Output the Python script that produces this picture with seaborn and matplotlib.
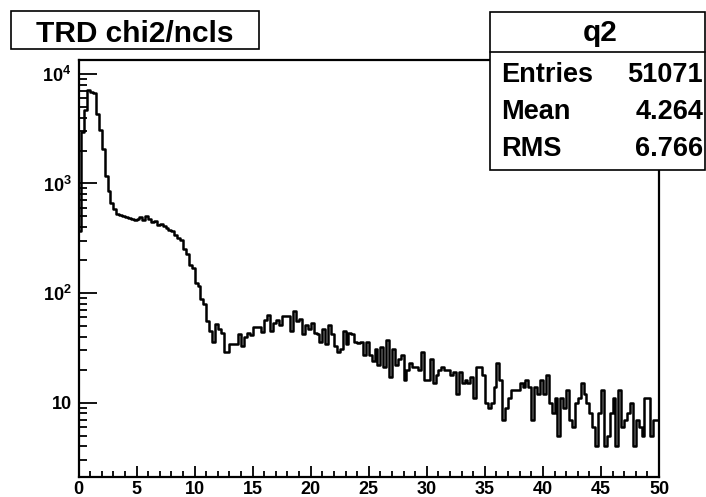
import numpy as np
import pandas as pd
import matplotlib
matplotlib.use("Agg")
import matplotlib.pyplot as plt
from matplotlib.patches import Rectangle
from matplotlib.lines import Line2D
from matplotlib.ticker import LogLocator, FixedLocator, MultipleLocator, NullFormatter
import seaborn as sns

# ---- histogram definition -------------------------------------------------
hist_name = "q2"
hist_title = "TRD chi2/ncls"
x_min, x_max, n_bins = 0.0, 50.0, 200

# bin contents, 0.25 wide bins from 0 to 50
counts = [
    367, 2950, 4700, 7100, 6880, 6650, 4350, 3050, 2070, 1180,
    860, 670, 580, 525, 515, 500, 490, 485, 470, 460,
    470, 495, 465, 500, 470, 445, 455, 420, 430, 405,
    395, 380, 365, 340, 320, 308, 250, 227, 181, 171,
    123, 115, 89, 79, 55, 45, 36, 52, 47, 43,
    29, 29, 34, 34, 34, 42, 33, 40, 43, 41,
    49, 49, 49, 44, 57, 63, 45, 53, 57, 51,
    62, 62, 62, 45, 68, 55, 58, 42, 51, 47,
    53, 43, 42, 36, 47, 34, 51, 42, 33, 29,
    31, 45, 34, 43, 42, 36, 35, 36, 27, 36,
    27, 24, 31, 22, 32, 21, 37, 17, 31, 22,
    25, 27, 16, 20, 23, 21, 21, 20, 29, 16,
    16, 25, 15, 18, 20, 21, 20, 20, 18, 19,
    12, 19, 15, 16, 15, 17, 11, 21, 21, 18,
    10, 9, 10, 14, 23, 16, 7, 9, 11, 13,
    13, 13, 15, 14, 16, 14, 7, 14, 12, 16,
    12, 18, 10, 8, 11, 5, 11, 9, 13, 7,
    6, 10, 11, 15, 12, 10, 8, 6, 4, 8,
    13, 4, 5, 8, 11, 4, 13, 6, 7, 8,
    10, 4, 7, 6, 5, 11, 11, 5, 7, 7,
]

# statistics box entries
stat_labels = ["Entries", "Mean", "RMS"]
stat_values = ["51071", "4.264", "6.766"]

# axis ticks
x_tick_values = [0, 5, 10, 15, 20, 25, 30, 35, 40, 45, 50]
y_tick_values = [10, 100, 1000, 10000]
y_tick_labels = ["10", r"$\mathbf{10^{2}}$", r"$\mathbf{10^{3}}$", r"$\mathbf{10^{4}}$"]
y_limits = (2.08, 13400)

# ---- style ---------------------------------------------------------------
sns.set_style("white")
plt.rcParams["font.family"] = ["Liberation Sans", "DejaVu Sans"]
plt.rcParams["font.weight"] = "bold"
plt.rcParams["mathtext.fontset"] = "custom"
plt.rcParams["mathtext.rm"] = "Liberation Sans:bold"
plt.rcParams["mathtext.bf"] = "Liberation Sans:bold"
plt.rcParams["text.color"] = "black"
plt.rcParams["xtick.color"] = "black"
plt.rcParams["ytick.color"] = "black"
plt.rcParams["axes.labelcolor"] = "black"

W, H = 706, 497
fig = plt.figure(figsize=(W / 100, H / 100), dpi=100)
fig.patch.set_facecolor("white")

# axes frame in pixel coordinates
ax_left, ax_right, ax_top, ax_bottom = 78.5, 659.0, 60.0, 477.3
ax = fig.add_axes([ax_left / W, 1 - ax_bottom / H,
                   (ax_right - ax_left) / W, (ax_bottom - ax_top) / H])
ax.set_facecolor("white")

bin_width = (x_max - x_min) / n_bins
centers = x_min + bin_width * (np.arange(n_bins) + 0.5)
hist_df = pd.DataFrame({"x": centers, "n": counts})
sns.histplot(data=hist_df, x="x", weights="n", binwidth=bin_width,
             binrange=(x_min, x_max), element="step", fill=False,
             color="black", linewidth=1.8, ax=ax)

ax.set_yscale("log")
ax.set_xlim(x_min, x_max)
ax.set_ylim(*y_limits)
ax.set_xlabel("")
ax.set_ylabel("")

for sp in ax.spines.values():
    sp.set_linewidth(1.6)
    sp.set_color("black")

# x ticks: major every 5, minor every 1, drawn inward
ax.xaxis.set_major_locator(FixedLocator(x_tick_values))
ax.xaxis.set_minor_locator(MultipleLocator(1))
ax.set_xticklabels([str(v) for v in x_tick_values])
ax.tick_params(axis="x", which="major", direction="in", length=8, width=1.3,
               labelsize=13, pad=3, bottom=True, top=False, colors="black")
ax.tick_params(axis="x", which="minor", direction="in", length=4.1, width=1.3,
               bottom=True, top=False, colors="black")

# y ticks: decades with exponent labels, minor ticks at 2..9
ax.yaxis.set_major_locator(FixedLocator(y_tick_values))
ax.set_yticklabels(y_tick_labels)
ax.yaxis.set_minor_locator(LogLocator(base=10, subs=np.arange(2, 10)))
ax.yaxis.set_minor_formatter(NullFormatter())
ax.tick_params(axis="y", which="major", direction="in", length=12.7, width=1.3,
               labelsize=13, pad=5, left=True, right=False, colors="black")
ax.tick_params(axis="y", which="minor", direction="in", length=6, width=1.3,
               left=True, right=False, colors="black")
for lab in ax.get_xticklabels() + ax.get_yticklabels():
    lab.set_fontweight("bold")


def px_box(x0, y0, x1, y1, **kw):
    """Rectangle given in pixel coordinates (origin top-left)."""
    return Rectangle((x0 / W, 1 - y1 / H), (x1 - x0) / W, (y1 - y0) / H,
                     transform=fig.transFigure, **kw)


# title box
fig.patches.append(px_box(11, 11, 259, 49, facecolor="white",
                          edgecolor="black", linewidth=1.2, zorder=5))
fig.text(135 / W, 1 - 42.5 / H, hist_title, ha="center", va="baseline",
         fontsize=21.5, fontweight="bold", color="black", zorder=6)

# statistics box
sb_left, sb_right, sb_top, sb_head, sb_bottom = 490, 705, 11.5, 51.7, 170
fig.patches.append(px_box(sb_left, sb_top, sb_right, sb_bottom, facecolor="white",
                          edgecolor="black", linewidth=1.2, zorder=5))
fig.lines.append(Line2D([sb_left / W, sb_right / W], [1 - sb_head / H, 1 - sb_head / H],
                        transform=fig.transFigure, color="black", linewidth=1.2, zorder=6))
fig.text(600 / W, 1 - 41 / H, hist_name, ha="center", va="baseline",
         fontsize=21.5, fontweight="bold", color="black", zorder=6)
row_baselines = [81.5, 119, 156.5]
for lab, val, yb in zip(stat_labels, stat_values, row_baselines):
    fig.text(501 / W, 1 - yb / H, lab, ha="left", va="baseline",
             fontsize=19.5, fontweight="bold", color="black", zorder=6)
    fig.text(703 / W, 1 - yb / H, val, ha="right", va="baseline",
             fontsize=19.5, fontweight="bold", color="black", zorder=6)

fig.savefig("out.png", dpi=100, facecolor="white")
